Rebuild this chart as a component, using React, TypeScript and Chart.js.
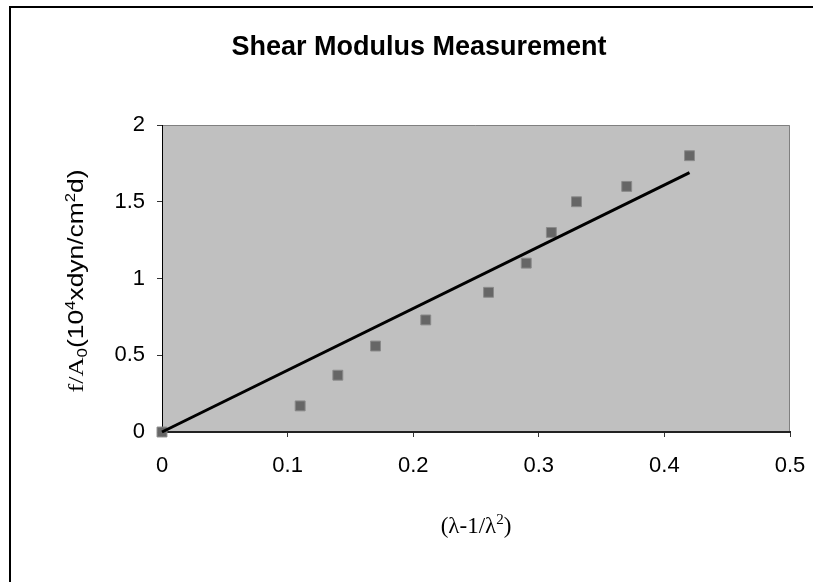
import React, { useEffect, useRef } from 'react';
import { Chart, registerables } from 'chart.js';

Chart.register(...registerables);

// Measured strain term (λ - 1/λ²) and normalised force f/A0
const strainX = [0, 0.11, 0.14, 0.17, 0.21, 0.26, 0.29, 0.31, 0.33, 0.37, 0.42];
const stressY = [0, 0.17, 0.37, 0.56, 0.73, 0.91, 1.1, 1.3, 1.5, 1.6, 1.8];

// Linear fit through the origin (end points)
const fitX = [0, 0.42];
const fitY = [0, 1.69];

const xTickValues = [0, 0.1, 0.2, 0.3, 0.4, 0.5];
const yTickValues = [0, 0.5, 1, 1.5, 2];

const titleText = 'Shear Modulus Measurement';

const SANS = '"Liberation Sans", Arial, sans-serif';
const SERIF = '"Liberation Serif", "Times New Roman", serif';

type Seg = { text: string; font: string; dy: number };

const xTitleSegs: Seg[] = [
  { text: '(λ-1/λ', font: `23px ${SERIF}`, dy: 0 },
  { text: '2', font: `15px ${SERIF}`, dy: -9 },
  { text: ')', font: `23px ${SERIF}`, dy: 0 },
];

const yTitleSegs: Seg[] = [
  { text: 'f/A', font: `22px ${SERIF}`, dy: 0 },
  { text: '0', font: `14px ${SANS}`, dy: 4 },
  { text: '(10', font: `22px ${SANS}`, dy: 0 },
  { text: '4', font: `14px ${SANS}`, dy: -8 },
  { text: 'xdyn/cm', font: `22px ${SANS}`, dy: 0 },
  { text: '2', font: `14px ${SANS}`, dy: -8 },
  { text: 'd)', font: `22px ${SANS}`, dy: 0 },
];

function drawRich(
  ctx: CanvasRenderingContext2D,
  segs: Seg[],
  cx: number,
  baseline: number,
  angle: number,
  stretch: number
) {
  ctx.save();
  ctx.translate(cx, baseline);
  ctx.rotate(angle);
  ctx.scale(stretch, 1);
  ctx.textAlign = 'left';
  ctx.textBaseline = 'alphabetic';
  ctx.fillStyle = '#000';
  const widths = segs.map((s) => {
    ctx.font = s.font;
    return ctx.measureText(s.text).width;
  });
  const total = widths.reduce((a, b) => a + b, 0);
  let x = -total / 2;
  segs.forEach((s, i) => {
    ctx.font = s.font;
    ctx.fillText(s.text, x, s.dy);
    x += widths[i];
  });
  ctx.restore();
}

const decorPlugin = {
  id: 'decor',
  beforeDraw(chart: any) {
    const { ctx, chartArea: a, width, height } = chart;
    ctx.save();
    ctx.fillStyle = '#ffffff';
    ctx.fillRect(0, 0, width, height);

    // plot area
    ctx.fillStyle = '#C0C0C0';
    ctx.fillRect(a.left, a.top, a.right - a.left, a.bottom - a.top);
    ctx.strokeStyle = '#808080';
    ctx.lineWidth = 1;
    ctx.beginPath();
    ctx.moveTo(a.left, a.top + 0.5);
    ctx.lineTo(a.right - 0.5, a.top + 0.5);
    ctx.lineTo(a.right - 0.5, a.bottom);
    ctx.stroke();

    // outer chart frame
    ctx.strokeStyle = '#000000';
    ctx.lineWidth = 2;
    ctx.beginPath();
    ctx.moveTo(10, height);
    ctx.lineTo(10, 7);
    ctx.lineTo(width, 7);
    ctx.stroke();

    // title
    ctx.fillStyle = '#000';
    ctx.font = `bold 27px ${SANS}`;
    ctx.textAlign = 'center';
    ctx.textBaseline = 'alphabetic';
    ctx.fillText(titleText, 419, 55);

    // axis titles
    const midX = (a.left + a.right) / 2;
    drawRich(ctx, xTitleSegs, midX, 533, 0, 1);
    drawRich(ctx, yTitleSegs, 83, 281, -Math.PI / 2, 1.2);
    ctx.restore();
  },
};

export default function App() {
  const canvasRef = useRef<HTMLCanvasElement | null>(null);

  useEffect(() => {
    document.body.style.margin = '0';
    const canvas = canvasRef.current;
    if (!canvas) return;

    const chart = new Chart(canvas, {
      type: 'scatter',
      data: {
        datasets: [
          {
            type: 'line',
            label: 'Fit',
            data: fitX.map((x, i) => ({ x, y: fitY[i] })),
            borderColor: '#000000',
            borderWidth: 3,
            pointRadius: 0,
            fill: false,
            tension: 0,
            order: 0,
            clip: false,
          } as any,
          {
            label: 'f/A0',
            data: strainX.map((x, i) => ({ x, y: stressY[i] })),
            pointStyle: 'rect',
            pointRadius: 7,
            pointHoverRadius: 7,
            pointBackgroundColor: '#666666',
            pointBorderColor: '#8a8a8a',
            pointBorderWidth: 1,
            showLine: false,
            order: 1,
            clip: false,
          } as any,
        ],
      },
      options: {
        responsive: false,
        animation: false,
        devicePixelRatio: 1,
        events: [],
        layout: { padding: { top: 125, right: 23, left: 0, bottom: 0 } },
        plugins: {
          legend: { display: false },
          tooltip: { enabled: false },
          title: { display: false },
        },
        scales: {
          x: {
            type: 'linear',
            position: 'bottom',
            min: 0,
            max: 0.5,
            afterBuildTicks: (s: any) => {
              s.ticks = xTickValues.map((v) => ({ value: v }));
            },
            afterFit: (s: any) => {
              s.height = 150;
              s.paddingLeft = 0;
              s.paddingRight = 0;
            },
            ticks: {
              padding: 16,
              color: '#000',
              font: { family: SANS, size: 22 },
              maxRotation: 0,
              callback: (v: any) => String(v),
            },
            grid: {
              drawOnChartArea: false,
              drawTicks: true,
              tickLength: 5,
              color: '#333',
              lineWidth: 1,
            },
            border: { display: true, color: '#222', width: 2 },
          },
          y: {
            type: 'linear',
            min: 0,
            max: 2,
            afterBuildTicks: (s: any) => {
              s.ticks = yTickValues.map((v) => ({ value: v }));
            },
            afterFit: (s: any) => {
              s.width = 162;
              s.paddingTop = 0;
              s.paddingBottom = 0;
            },
            ticks: {
              padding: 12,
              color: '#000',
              font: { family: SANS, size: 22 },
              callback: (v: any) => String(v),
            },
            grid: {
              drawOnChartArea: false,
              drawTicks: true,
              tickLength: 5,
              color: '#333',
              lineWidth: 1,
            },
            border: { display: true, color: '#000', width: 1 },
          },
        },
      } as any,
      plugins: [decorPlugin],
    });

    return () => chart.destroy();
  }, []);

  return <canvas ref={canvasRef} width={813} height={582} style={{ display: 'block' }} />;
}
